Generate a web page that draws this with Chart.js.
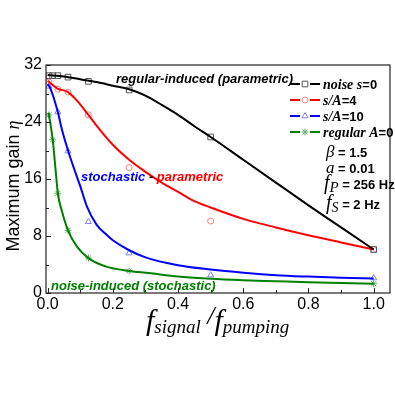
<!DOCTYPE html>
<html>
<head>
<meta charset="utf-8">
<script src="https://cdn.jsdelivr.net/npm/chart.js@4/dist/chart.umd.min.js"></script>
<style>
  html, body { margin: 0; padding: 0; background: #fff; }
  #wrap { width: 395px; height: 395px; }
</style>
</head>
<body>
<div id="wrap"><canvas id="gainChart" width="395" height="395"></canvas></div>
<script>
// tick labels
const xTicks = [0, 0.2, 0.4, 0.6, 0.8, 1.0];
const yTicks = [0, 8, 16, 24, 32];

// measured points (markers)
const blackX = [0.0039, 0.0156, 0.0313, 0.0625, 0.125, 0.25, 0.5, 1.0];
const blackY = [30.5, 30.5, 30.5, 30.3, 29.7, 28.5, 21.9, 6.1];
const redX = [0.0039, 0.0313, 0.0625, 0.125, 0.25, 0.5, 1.0];
const redY = [29.6, 28.6, 28.2, 25.0, 17.6, 10.1, 6.1];
const blueX = [0.0039, 0.0313, 0.0625, 0.125, 0.25, 0.5, 1.0];
const blueY = [29.0, 25.4, 19.9, 10.0, 5.6, 2.5, 2.1];
const greenX = [0.0039, 0.0156, 0.0313, 0.0625, 0.125, 0.25, 1.0];
const greenY = [25.0, 21.5, 14.0, 8.8, 4.9, 3.1, 1.3];

// fitted curves
const blackFitX = [0, 0.05, 0.1, 0.15, 0.2, 0.25, 0.3, 0.35, 0.4, 0.45, 0.5, 0.6, 0.7, 0.8, 0.9, 1.0];
const blackFitY = [30.6, 30.4, 30.0, 29.6, 29.1, 28.6, 27.7, 26.4, 25.0, 23.4, 21.9, 18.7, 15.5, 12.3, 9.2, 6.1];
const redFitX = [0, 0.03, 0.0625, 0.09, 0.125, 0.15, 0.2, 0.25, 0.3, 0.35, 0.4, 0.45, 0.5, 0.6, 0.7, 0.8, 0.9, 1.0];
const redFitY = [29.8, 28.7, 28.2, 27.0, 25.0, 23.5, 20.8, 18.7, 17.0, 15.5, 14.2, 12.9, 12.0, 10.4, 9.2, 8.1, 7.1, 6.1];
const blueFitX = [0, 0.0078, 0.0313, 0.044, 0.0625, 0.08, 0.1, 0.12, 0.15, 0.18, 0.2, 0.25, 0.3, 0.4, 0.5, 0.6, 0.7, 0.8, 0.9, 1.0];
const blueFitY = [29.3, 28.8, 25.4, 22.9, 20.0, 17.6, 15.0, 12.2, 9.6, 8.2, 7.4, 6.0, 5.0, 3.9, 3.3, 2.85, 2.5, 2.3, 2.15, 2.05];
const greenFitX = [0.003, 0.0156, 0.025, 0.0313, 0.045, 0.0625, 0.09, 0.125, 0.18, 0.25, 0.31, 0.4, 0.5, 0.6, 0.7, 0.8, 0.9, 1.0];
const greenFitY = [25.3, 21.5, 17.0, 14.0, 11.3, 8.8, 6.5, 4.9, 3.7, 3.1, 2.8, 2.3, 2.0, 1.8, 1.65, 1.5, 1.4, 1.3];

const SANS = '"Liberation Sans", Arial, sans-serif';
const SERIF = '"Liberation Serif", "Times New Roman", serif';

const pts = (xs, ys) => xs.map((x, i) => ({ x: x, y: ys[i] }));

function curve(xs, ys, color) {
  return {
    type: 'line', data: pts(xs, ys), borderColor: color, borderWidth: 2,
    pointRadius: 0, cubicInterpolationMode: 'monotone', fill: false, order: 1
  };
}
function markers(xs, ys, color, style, r) {
  return {
    type: 'scatter', data: pts(xs, ys), showLine: false, pointStyle: style,
    pointRadius: r, borderColor: color, backgroundColor: 'rgba(255,255,255,0)',
    pointBorderWidth: 1, order: 2
  };
}

// draw a run of mixed-font text pieces from (x, y) on the baseline
function runs(ctx, x, y, parts) {
  ctx.textAlign = 'left';
  ctx.textBaseline = 'alphabetic';
  parts.forEach(p => {
    ctx.font = p.font;
    ctx.fillStyle = p.color || '#000';
    ctx.fillText(p.t, x, y + (p.dy || 0));
    x += ctx.measureText(p.t).width;
  });
  return x;
}
function runsWidth(ctx, parts) {
  let w = 0;
  parts.forEach(p => { ctx.font = p.font; w += ctx.measureText(p.t).width; });
  return w;
}

const decor = {
  id: 'decor',
  afterDraw(chart) {
    const ctx = chart.ctx;
    const a = chart.chartArea;
    const xs = chart.scales.x, ys = chart.scales.y;
    ctx.save();

    // frame
    ctx.strokeStyle = '#222';
    ctx.lineWidth = 1.2;
    ctx.strokeRect(a.left, a.top, a.right - a.left, a.bottom - a.top);

    // inward ticks
    ctx.lineWidth = 1;
    for (let v = 0; v <= 1.0001; v += 0.1) {
      const px = Math.round(xs.getPixelForValue(v)) + 0.5;
      const major = Math.abs(v * 5 - Math.round(v * 5)) < 1e-6;
      ctx.beginPath();
      ctx.moveTo(px, a.bottom);
      ctx.lineTo(px, a.bottom - (major ? 5 : 3));
      ctx.stroke();
    }
    for (let v = 0; v <= 32; v += 4) {
      const py = Math.round(ys.getPixelForValue(v)) + 0.5;
      ctx.beginPath();
      ctx.moveTo(a.left, py);
      ctx.lineTo(a.left + (v % 8 === 0 ? 5 : 3), py);
      ctx.stroke();
    }

    // in-plot labels
    const bi = 'italic bold 13px ' + SANS;
    runs(ctx, 116, 83, [{ t: 'regular-induced (parametric)', font: bi }]);
    runs(ctx, 81, 181, [
      { t: 'stochastic', font: bi, color: '#0000ff' },
      { t: ' - ', font: bi },
      { t: 'parametric', font: bi, color: '#ff0000' }
    ]);
    runs(ctx, 51, 290, [{ t: 'noise-induced (stochastic)', font: bi, color: '#008000' }]);

    // legend
    const lg = [
      { c: '#000000', m: '#555555', s: 'rect', r: 4, parts: [
        { t: 'noise ', font: 'italic bold 14px ' + SERIF }, { t: 's', font: 'italic bold 14px ' + SERIF },
        { t: '=0', font: 'bold 13px ' + SANS }] },
      { c: '#ff0000', m: '#f08080', s: 'circle', r: 3, parts: [
        { t: 's/A', font: 'italic bold 14px ' + SERIF }, { t: '=4', font: 'bold 13px ' + SANS }] },
      { c: '#0000ff', m: '#7f7fff', s: 'triangle', r: 3.5, parts: [
        { t: 's/A', font: 'italic bold 14px ' + SERIF }, { t: '=10', font: 'bold 13px ' + SANS }] },
      { c: '#008000', m: '#5fae5f', s: 'star', r: 3.5, parts: [
        { t: 'regular ', font: 'italic bold 14px ' + SERIF }, { t: 'A', font: 'italic bold 14px ' + SERIF },
        { t: '=0', font: 'bold 13px ' + SANS }] }
    ];
    lg.forEach((it, i) => {
      const cy = 84 + i * 16;
      ctx.strokeStyle = it.c;
      ctx.lineWidth = 2;
      ctx.beginPath();
      ctx.moveTo(290, cy); ctx.lineTo(300, cy);
      ctx.moveTo(310, cy); ctx.lineTo(320, cy);
      ctx.stroke();
      ctx.lineWidth = 1;
      ctx.strokeStyle = it.m;
      ctx.fillStyle = 'rgba(255,255,255,0)';
      Chart.helpers.drawPoint(ctx, { pointStyle: it.s, radius: it.r, rotation: 0, borderWidth: 1 }, 305, cy);
      runs(ctx, 323, cy + 5, it.parts);
    });

    // parameters
    const pv = 'bold 13px ' + SANS;
    runs(ctx, 326, 157, [{ t: '\u03b2', font: 'italic 17px ' + SERIF }, { t: ' = 1.5', font: pv }]);
    runs(ctx, 326, 173, [{ t: 'a', font: 'italic 17px ' + SERIF }, { t: ' = 0.01', font: pv }]);
    runs(ctx, 324, 189, [
      { t: 'f', font: 'italic 20px ' + SERIF },
      { t: 'P', font: 'italic 15px ' + SERIF, dy: 3 },
      { t: ' = 256 Hz', font: pv }]);
    runs(ctx, 326, 209, [
      { t: 'f', font: 'italic 20px ' + SERIF },
      { t: 'S', font: 'italic 14px ' + SERIF, dy: 3 },
      { t: ' = 2 Hz', font: pv }]);

    // x axis title
    runs(ctx, 146, 330, [
      { t: 'f', font: 'italic 30px ' + SERIF },
      { t: 'signal', font: 'italic 19px ' + SERIF, dy: 3 },
      { t: ' /', font: 'italic 26px ' + SERIF, dy: -6 },
      { t: 'f', font: 'italic 30px ' + SERIF },
      { t: 'pumping', font: 'italic 19px ' + SERIF, dy: 3 }
    ]);

    // y axis title
    const yt = [{ t: 'Maximum gain ', font: '18px ' + SANS }, { t: '\u03b7', font: 'italic 18px ' + SERIF }];
    const w = runsWidth(ctx, yt);
    ctx.translate(19, 186);
    ctx.rotate(-Math.PI / 2);
    runs(ctx, -w / 2, 0, yt);
    ctx.restore();
  }
};

new Chart(document.getElementById('gainChart'), {
  type: 'scatter',
  data: {
    datasets: [
      markers(blackX, blackY, '#555555', 'rect', 4),
      markers(redX, redY, '#f08080', 'circle', 3),
      markers(blueX, blueY, '#7f7fff', 'triangle', 3.5),
      markers(greenX, greenY, '#5fae5f', 'star', 3.5),
      curve(blackFitX, blackFitY, '#000000'),
      curve(redFitX, redFitY, '#ff0000'),
      curve(blueFitX, blueFitY, '#0000ff'),
      curve(greenFitX, greenFitY, '#008000')
    ]
  },
  options: {
    responsive: false,
    animation: false,
    layout: { padding: { top: 65, right: 2, left: 0, bottom: 0 } },
    plugins: { legend: { display: false }, tooltip: { enabled: false } },
    scales: {
      x: {
        type: 'linear', min: -0.005, max: 1.05,
        grid: { display: false, drawTicks: false }, border: { display: false },
        afterBuildTicks: s => { s.ticks = xTicks.map(v => ({ value: v })); },
        afterFit: s => { s.height = 102; },
        ticks: { font: { family: SANS, size: 16 }, color: '#000', padding: 2,
                 maxRotation: 0, callback: v => v.toFixed(1) }
      },
      y: {
        type: 'linear', min: 0, max: 32,
        grid: { display: false, drawTicks: false }, border: { display: false },
        afterBuildTicks: s => { s.ticks = yTicks.map(v => ({ value: v })); },
        afterFit: s => { s.width = 46; },
        ticks: { font: { family: SANS, size: 16 }, color: '#000', padding: 4 }
      }
    }
  },
  plugins: [decor]
});
</script>
</body>
</html>
